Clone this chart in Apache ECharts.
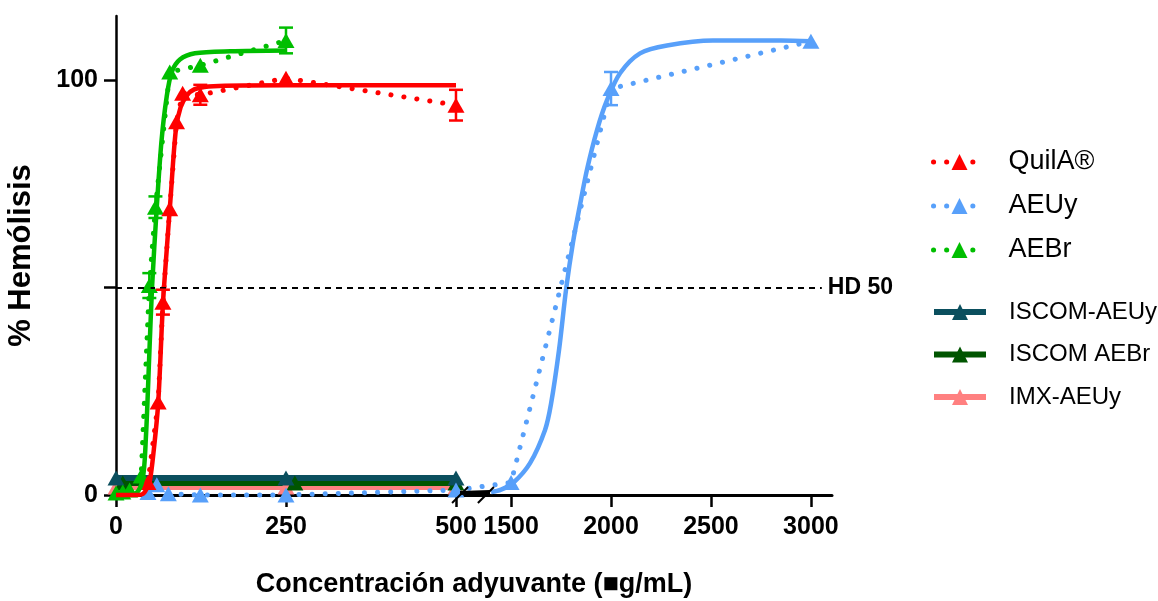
<!DOCTYPE html>
<html>
<head>
<meta charset="utf-8">
<script src="https://cdn.jsdelivr.net/npm/echarts@6/dist/echarts.min.js"></script>
<style>
  html, body { margin: 0; padding: 0; background: #fff; }
  #chart { width: 1158px; height: 601px; }
</style>
</head>
<body>
<div id="chart"></div>
<script>
// measured points (concentration in µg/mL, % hemolysis), sd = error bar half-height
const quilaX = [47, 62, 69, 79, 89, 98, 124, 250, 500];
const quilaY = [3, 22.4, 46.5, 69, 90, 96.9, 96.5, 100.5, 94];
const quilaSd = [0, 0, 3, 0, 0, 0, 2.4, 0, 3.7];

const aeuyX = [47, 60, 77, 124, 250, 500, 1500, 2000, 3000];
const aeuyY = [0.6, 2.5, 0.3, 0, 0, 1.2, 3, 98, 109.4];
const aeuySd = [0, 0, 0, 0, 0, 0, 0, 4, 0];

const aebrX = [0, 10, 20, 37, 49, 58, 79, 124, 250];
const aebrY = [0.5, 0.7, 1.2, 4.6, 50.5, 69.4, 102, 103.6, 109.6];
const aebrSd = [0, 0, 0, 0, 3, 2.6, 0, 0, 3.1];

const iscomAeuyX = [0, 250, 500];
const iscomAeuyY = [4.1, 4.1, 4.1];
const iscomAebrX = [10, 263, 500];
const iscomAebrY = [2.9, 2.9, 2.9];
const imxAeuyX = [0, 250, 500];
const imxAeuyY = [1.9, 1.9, 1.9];

// fitted dose-response curves
const quilaFitX = [0, 30, 40, 46, 50, 55, 62, 69, 75, 80, 88, 95, 105, 115, 130, 160, 250, 500];
const quilaFitY = [0, 0, 0.3, 1.8, 3.6, 10, 22, 46, 60, 71, 88, 93.5, 96.5, 97.8, 98.4, 98.7, 98.8, 98.8];
const aebrFitX = [0, 28, 39, 44, 49, 53, 60, 67, 74.5, 82, 94, 116, 168, 250];
const aebrFitY = [0, 0.3, 3.6, 14, 34, 50, 69.5, 85.5, 96, 102, 105, 106.5, 107, 107.2];
const aeuyFitX = [1400, 1450, 1510, 1595, 1670, 1700, 1740, 1775, 1810, 1845, 1880, 1930, 1980, 2045, 2145, 2280, 2510, 2850, 3000];
const aeuyFitY = [0.7, 1.3, 2.9, 7.7, 15.7, 22, 35, 49.5, 61, 70, 78.5, 88, 95.2, 101.7, 106.5, 108.4, 109.6, 109.6, 109.4];

const xTicks = [0, 250, 500, 1500, 2000, 2500, 3000];
const yTicks = [0, 50, 100];
const yLabels = [0, 100];
const hd50 = 50;

// broken x axis: 0-500 at full scale, 1500-3000 compressed after the break
const RIGHT_START = 581;
const RIGHT_SCALE = 0.294;
const pos = (x) => (x < 1000 ? x : RIGHT_START + (x - 1500) * RIGHT_SCALE);
const xTickPos = xTicks.map(pos);
const breakMarks = [506, 544];

const C = {
  quila: "#ff0000",
  aeuy: "#58a0fa",
  aebr: "#00be00",
  iscomAeuy: "#0b4f5e",
  iscomAebr: "#005500",
  imx: "#ff8080",
};

const pts = (xs, ys) => xs.map((x, i) => [pos(x), ys[i]]);
const errs = (xs, ys, sd) =>
  xs.map((x, i) => [pos(x), ys[i], sd[i]]).filter((d) => d[2] > 0);

const FONT = "Arial, 'Liberation Sans', sans-serif";
const TRI = [17, 15];
const DOTS = [0.1, 13];

function dotted(name, color, data) {
  return {
    name, type: "line", data, clip: false,
    symbol: "triangle", symbolSize: TRI, showAllSymbol: true,
    itemStyle: { color },
    lineStyle: { color, width: 5, type: DOTS, cap: "round" },
  };
}
function fit(name, color, data) {
  return {
    name, type: "line", data, clip: false, z: 4,
    symbol: "none", smooth: 0.3,
    lineStyle: { color, width: 4.5 },
  };
}
function flat(name, color, data) {
  return {
    name, type: "line", data, clip: false,
    symbol: "triangle", symbolSize: TRI,
    itemStyle: { color },
    lineStyle: { color, width: 6 },
  };
}
function errorBars(color, data) {
  return {
    type: "custom", data, z: 5, clip: false,
    encode: { x: 0, y: 1 },
    renderItem: (params, api) => {
      const x = api.value(0), y = api.value(1), e = api.value(2);
      const hi = api.coord([x, y + e]);
      const lo = api.coord([x, y - e]);
      const w = 7;
      const style = { stroke: color, lineWidth: 2.5 };
      return {
        type: "group",
        children: [
          { type: "line", shape: { x1: hi[0], y1: hi[1], x2: lo[0], y2: lo[1] }, style },
          { type: "line", shape: { x1: hi[0] - w, y1: hi[1], x2: hi[0] + w, y2: hi[1] }, style },
          { type: "line", shape: { x1: lo[0] - w, y1: lo[1], x2: lo[0] + w, y2: lo[1] }, style },
        ],
      };
    },
  };
}

const chart = echarts.init(document.getElementById("chart"), null, { renderer: "canvas" });

const legendBase = {
  orient: "vertical",
  left: 926,
  itemWidth: 52,
  itemHeight: 20,
  selectedMode: false,
};

chart.setOption({
  animation: false,
  backgroundColor: "#fff",
  grid: { left: 116, right: 326, top: 16, bottom: 106, outerBoundsMode: "none" },
  legend: [
    {
      ...legendBase,
      top: 142,
      itemGap: 14,
      data: ["QuilA®", "AEUy", "AEBr"],
      lineStyle: { width: 5, type: DOTS, cap: "round" },
      textStyle: { fontFamily: FONT, fontSize: 27, lineHeight: 30, color: "#000", padding: [0, 0, 0, 18] },
    },
    {
      ...legendBase,
      top: 292,
      itemGap: 12.5,
      data: ["ISCOM-AEUy", "ISCOM AEBr", "IMX-AEUy"],
      lineStyle: { width: 6 },
      textStyle: {
        fontFamily: FONT,
        fontSize: 24, lineHeight: 30, color: "#000", padding: [0, 0, 0, 18],
      },
    },
  ],
  xAxis: {
    type: "value",
    min: 0,
    max: 1053,
    name: "Concentración adyuvante (■g/mL)",
    nameLocation: "middle",
    nameGap: 76,
    nameTextStyle: { fontFamily: FONT, fontWeight: "bold", fontSize: 27, color: "#000" },
    splitLine: { show: false },
    axisLine: { lineStyle: { color: "#000", width: 3 } },
    axisTick: { customValues: xTickPos, length: 12, lineStyle: { color: "#000", width: 2.5 } },
    axisLabel: {
      customValues: xTickPos,
      margin: 20,
      fontFamily: FONT, fontWeight: "bold", fontSize: 25, color: "#000",
      formatter: (v) => {
        const i = xTickPos.findIndex((p) => Math.abs(p - v) < 0.01);
        return i >= 0 ? String(xTicks[i]) : "";
      },
    },
  },
  yAxis: {
    type: "value",
    min: 0,
    max: 115.5,
    name: "% Hemólisis",
    nameLocation: "middle",
    nameGap: 79,
    nameTextStyle: { fontFamily: FONT, fontWeight: "bold", fontSize: 31, color: "#000" },
    splitLine: { show: false },
    axisLine: { show: true, lineStyle: { color: "#000", width: 2.5 } },
    axisTick: { show: true, customValues: yTicks, length: 12, lineStyle: { color: "#000", width: 2.5 } },
    axisLabel: {
      customValues: yLabels,
      margin: 18,
      fontFamily: FONT, fontWeight: "bold", fontSize: 25, color: "#000",
    },
  },
  series: [
    {
      ...flat("IMX-AEUy", C.imx, pts(imxAeuyX, imxAeuyY)),
      markLine: {
        silent: true,
        symbol: "none",
        lineStyle: { color: "#000", type: [6, 5], width: 2 },
        label: {
          show: true, position: "end", distance: 6, formatter: "HD 50",
          fontFamily: FONT, fontWeight: "bold", fontSize: 23, color: "#000",
        },
        data: [[{ coord: [0, hd50] }, { coord: [1038, hd50] }]],
      },
    },
    flat("ISCOM AEBr", C.iscomAebr, pts(iscomAebrX, iscomAebrY)),
    flat("ISCOM-AEUy", C.iscomAeuy, pts(iscomAeuyX, iscomAeuyY)),
    dotted("AEUy", C.aeuy, pts(aeuyX, aeuyY)),
    dotted("AEBr", C.aebr, pts(aebrX, aebrY)),
    dotted("QuilA®", C.quila, pts(quilaX, quilaY)),
    fit("AEUy fit", C.aeuy, pts(aeuyFitX, aeuyFitY)),
    fit("AEBr fit", C.aebr, pts(aebrFitX, aebrFitY)),
    fit("QuilA® fit", C.quila, pts(quilaFitX, quilaFitY)),
    errorBars(C.quila, errs(quilaX, quilaY, quilaSd)),
    errorBars(C.aeuy, errs(aeuyX, aeuyY, aeuySd)),
    errorBars(C.aebr, errs(aebrX, aebrY, aebrSd)),
  ],
});

// axis break: two slashes with a heavier stroke between them
const toPx = (p) => chart.convertToPixel({ xAxisIndex: 0, yAxisIndex: 0 }, [p, 0]);
const [b0, b1] = breakMarks.map(toPx);
const bEnd = toPx(550);
const slash = (p) => ({
  type: "line", z: 10,
  shape: { x1: p[0] - 8, y1: p[1] + 8, x2: p[0] + 8, y2: p[1] - 8 },
  style: { stroke: "#000", lineWidth: 2 },
});
chart.setOption({
  graphic: [
    slash(b0),
    slash(b1),
    {
      type: "line", z: 9,
      shape: { x1: b0[0], y1: b0[1] - 2, x2: bEnd[0], y2: bEnd[1] - 3 },
      style: { stroke: "#000", lineWidth: 4 },
    },
  ],
});
</script>
</body>
</html>
